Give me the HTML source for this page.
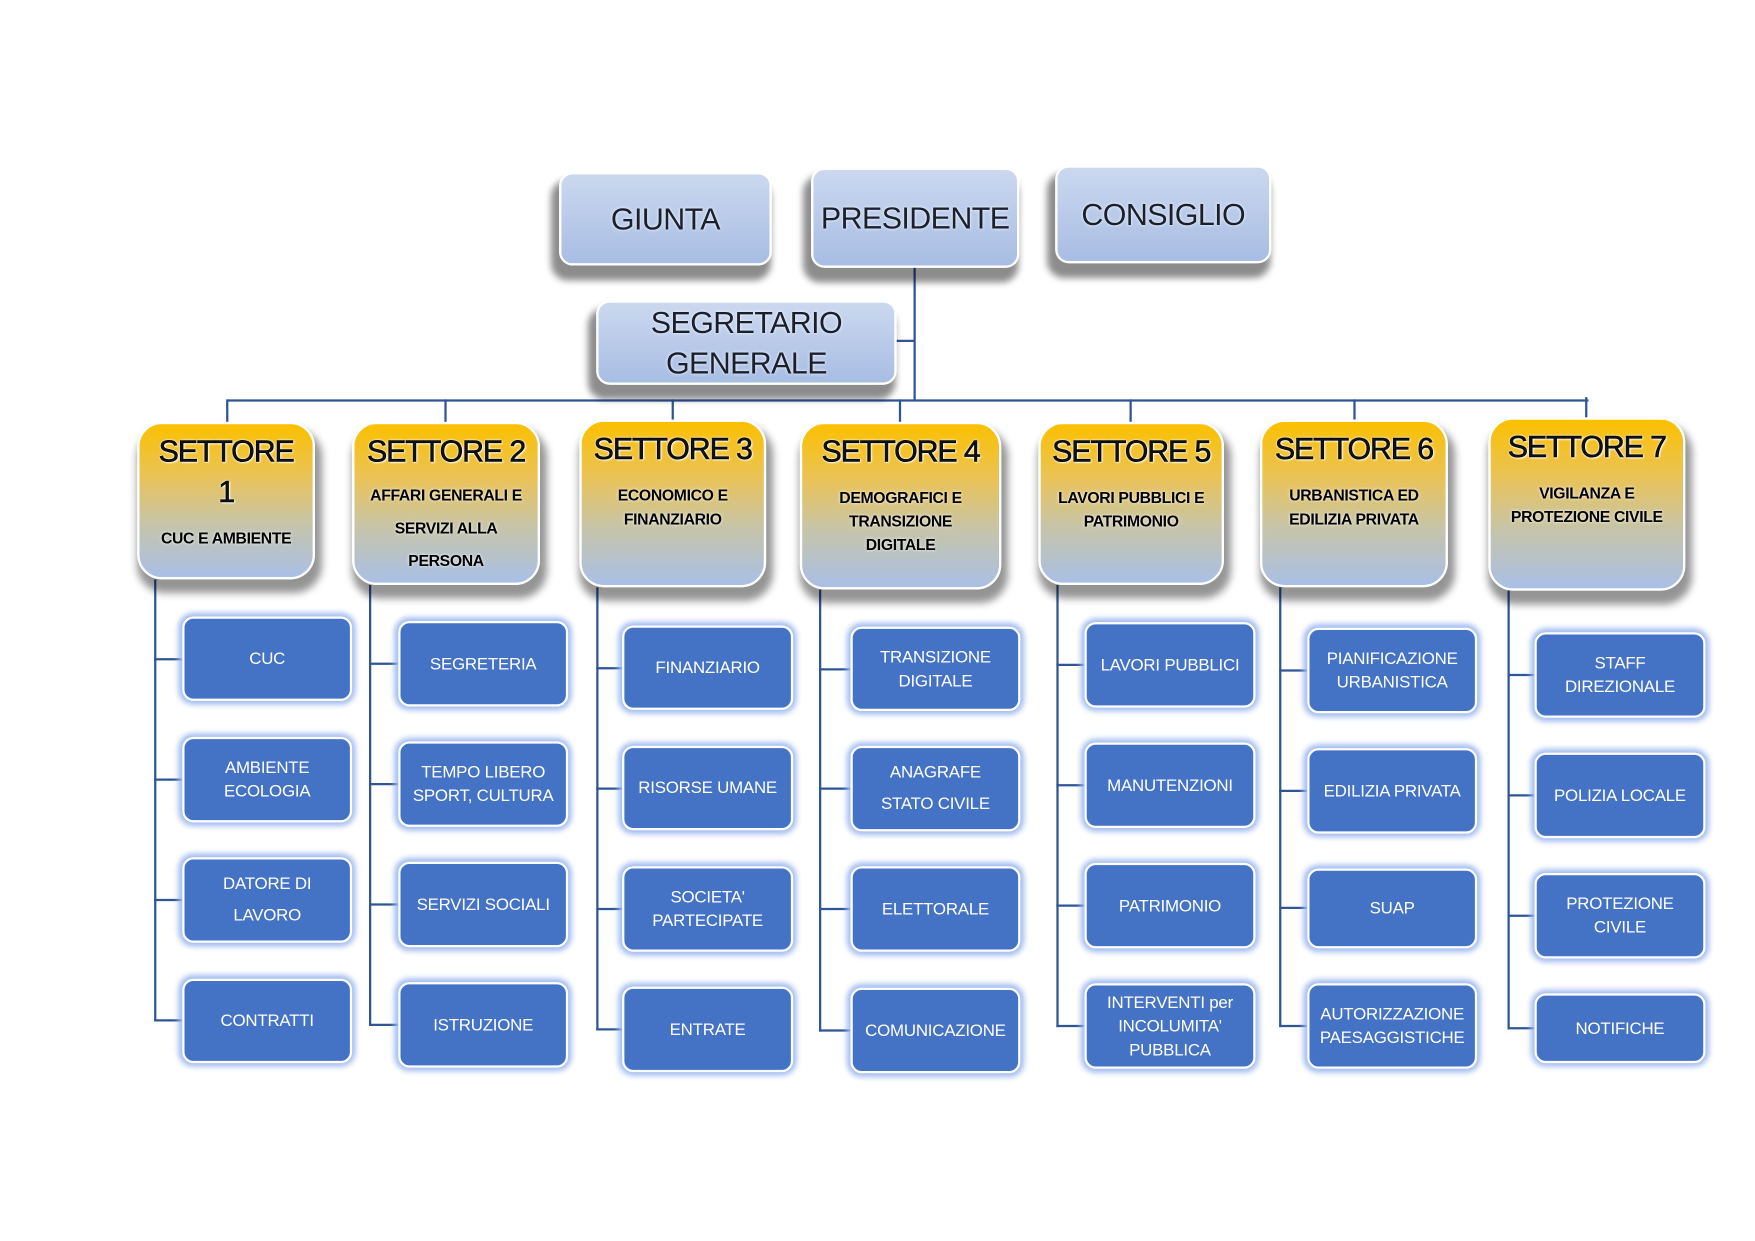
<!DOCTYPE html>
<html><head><meta charset="utf-8"><style>
html,body{margin:0;padding:0;background:#fff;width:1755px;height:1241px;overflow:hidden}
#w{position:absolute;left:0;top:0;width:1560px;height:1103px;transform:scale(1.125);transform-origin:0 0;font-family:"Liberation Sans",sans-serif}
.t{position:absolute;box-sizing:border-box;border:2px solid #fff;border-radius:12px;background:linear-gradient(#cbd8ef,#a8bde3);box-shadow:-4px 10px 6px 3px rgba(0,0,0,.45);display:flex;align-items:center;justify-content:center;text-align:center;color:#1a1f2e;font-size:27px;letter-spacing:-0.5px;line-height:36px;text-shadow:0 0 3px #fff;white-space:nowrap}
.s{position:absolute;box-sizing:border-box;border:2px solid #fff;border-radius:22px;background:linear-gradient(#fbc000 0%,#e9c35a 35%,#c6c4a9 65%,#a9bfe6 100%);box-shadow:3px 9px 7px 3px rgba(0,0,0,.42);text-align:center;color:#000}
.s h{display:block;font-size:27px;letter-spacing:-1px;line-height:36px;margin-top:6px;white-space:nowrap;color:#111;-webkit-text-stroke:0.5px #000;text-shadow:0 0 2px #fff,0 0 2px #fff,1px 1px 2px #fff}
.s p{margin:13px 2px 0;font-weight:bold;font-size:14px;letter-spacing:-0.3px;line-height:21px;text-shadow:0 0 3px #fff}
.c{position:absolute;box-sizing:border-box;border:2px solid #fff;border-radius:10px;background:#4472c4;box-shadow:0 0 5px 3px #9fbaf0;display:flex;align-items:center;justify-content:center;text-align:center;color:#fff;font-size:15px;letter-spacing:-0.2px;line-height:21px}
.l{position:absolute;background:#2f5597}
</style></head><body><div id="w">
<div class="l" style="left:812px;top:238px;width:2px;height:118px"></div>
<div class="l" style="left:797px;top:302px;width:16px;height:2px"></div>
<div class="l" style="left:202px;top:355px;width:1210px;height:2px"></div>
<div class="l" style="left:201px;top:355px;width:2px;height:20px"></div>
<div class="l" style="left:395px;top:355px;width:2px;height:20px"></div>
<div class="l" style="left:597px;top:355px;width:2px;height:18px"></div>
<div class="l" style="left:799px;top:355px;width:2px;height:20px"></div>
<div class="l" style="left:1004px;top:355px;width:2px;height:20px"></div>
<div class="l" style="left:1203px;top:355px;width:2px;height:18px"></div>
<div class="l" style="left:1409px;top:353px;width:2px;height:18px"></div>

<div class="l" style="left:137px;top:515px;width:2px;height:393px"></div>
<div class="l" style="left:328px;top:520px;width:2px;height:392px"></div>
<div class="l" style="left:530px;top:522px;width:2px;height:394px"></div>
<div class="l" style="left:728px;top:524px;width:2px;height:393px"></div>
<div class="l" style="left:939px;top:520px;width:2px;height:393px"></div>
<div class="l" style="left:1137px;top:522px;width:2px;height:391px"></div>
<div class="l" style="left:1340px;top:525px;width:2px;height:390px"></div>

<div class="l" style="left:137px;top:585px;width:25px;height:2px"></div>
<div class="l" style="left:137px;top:692px;width:25px;height:2px"></div>
<div class="l" style="left:137px;top:799px;width:25px;height:2px"></div>
<div class="l" style="left:137px;top:906px;width:25px;height:2px"></div>
<div class="l" style="left:328px;top:589px;width:26px;height:2px"></div>
<div class="l" style="left:328px;top:696px;width:26px;height:2px"></div>
<div class="l" style="left:328px;top:803px;width:26px;height:2px"></div>
<div class="l" style="left:328px;top:910px;width:26px;height:2px"></div>
<div class="l" style="left:530px;top:593px;width:23px;height:2px"></div>
<div class="l" style="left:530px;top:700px;width:23px;height:2px"></div>
<div class="l" style="left:530px;top:807px;width:23px;height:2px"></div>
<div class="l" style="left:530px;top:914px;width:23px;height:2px"></div>
<div class="l" style="left:728px;top:594px;width:28px;height:2px"></div>
<div class="l" style="left:728px;top:700px;width:28px;height:2px"></div>
<div class="l" style="left:728px;top:807px;width:28px;height:2px"></div>
<div class="l" style="left:728px;top:915px;width:28px;height:2px"></div>
<div class="l" style="left:939px;top:590px;width:25px;height:2px"></div>
<div class="l" style="left:939px;top:697px;width:25px;height:2px"></div>
<div class="l" style="left:939px;top:804px;width:25px;height:2px"></div>
<div class="l" style="left:939px;top:911px;width:25px;height:2px"></div>
<div class="l" style="left:1137px;top:595px;width:25px;height:2px"></div>
<div class="l" style="left:1137px;top:702px;width:25px;height:2px"></div>
<div class="l" style="left:1137px;top:806px;width:25px;height:2px"></div>
<div class="l" style="left:1137px;top:911px;width:25px;height:2px"></div>
<div class="l" style="left:1340px;top:599px;width:24px;height:2px"></div>
<div class="l" style="left:1340px;top:706px;width:24px;height:2px"></div>
<div class="l" style="left:1340px;top:813px;width:24px;height:2px"></div>
<div class="l" style="left:1340px;top:913px;width:24px;height:2px"></div>

<div class="t" style="left:497px;top:153px;width:189px;height:83px">GIUNTA</div>
<div class="t" style="left:721px;top:149px;width:185px;height:89px">PRESIDENTE</div>
<div class="t" style="left:938px;top:147px;width:192px;height:87px">CONSIGLIO</div>
<div class="t" style="left:530px;top:267px;width:267px;height:75px">SEGRETARIO<br>GENERALE</div>

<div class="s" style="left:122px;top:375px;width:158px;height:140px"><h>SETTORE<br>1</h><p style="margin-top:13px">CUC E AMBIENTE</p></div>
<div class="s" style="left:313px;top:375px;width:167px;height:145px"><h>SETTORE 2</h><p style="line-height:29px;margin-top:7px">AFFARI GENERALI E SERVIZI ALLA PERSONA</p></div>
<div class="s" style="left:515px;top:373px;width:166px;height:149px"><h>SETTORE 3</h><p>ECONOMICO E FINANZIARIO</p></div>
<div class="s" style="left:711px;top:375px;width:179px;height:149px"><h>SETTORE 4</h><p>DEMOGRAFICI E TRANSIZIONE<br>DIGITALE</p></div>
<div class="s" style="left:923px;top:375px;width:165px;height:145px"><h>SETTORE 5</h><p>LAVORI PUBBLICI E PATRIMONIO</p></div>
<div class="s" style="left:1120px;top:373px;width:167px;height:149px"><h>SETTORE 6</h><p>URBANISTICA ED EDILIZIA PRIVATA</p></div>
<div class="s" style="left:1323px;top:371px;width:175px;height:154px"><h>SETTORE 7</h><p>VIGILANZA E PROTEZIONE CIVILE</p></div>

<div class="c" style="left:162px;top:548px;width:151px;height:75px">CUC</div>
<div class="c" style="left:162px;top:655px;width:151px;height:76px">AMBIENTE<br>ECOLOGIA</div>
<div class="c" style="left:162px;top:762px;width:151px;height:76px;line-height:28px">DATORE DI<br>LAVORO</div>
<div class="c" style="left:162px;top:870px;width:151px;height:75px">CONTRATTI</div>

<div class="c" style="left:354px;top:552px;width:151px;height:76px">SEGRETERIA</div>
<div class="c" style="left:354px;top:659px;width:151px;height:76px">TEMPO LIBERO<br>SPORT, CULTURA</div>
<div class="c" style="left:354px;top:766px;width:151px;height:76px">SERVIZI SOCIALI</div>
<div class="c" style="left:354px;top:873px;width:151px;height:76px">ISTRUZIONE</div>

<div class="c" style="left:553px;top:556px;width:152px;height:75px">FINANZIARIO</div>
<div class="c" style="left:553px;top:663px;width:152px;height:75px">RISORSE UMANE</div>
<div class="c" style="left:553px;top:770px;width:152px;height:76px">SOCIETA'<br>PARTECIPATE</div>
<div class="c" style="left:553px;top:877px;width:152px;height:76px">ENTRATE</div>

<div class="c" style="left:756px;top:557px;width:151px;height:75px">TRANSIZIONE<br>DIGITALE</div>
<div class="c" style="left:756px;top:663px;width:151px;height:76px;line-height:28px">ANAGRAFE<br>STATO CIVILE</div>
<div class="c" style="left:756px;top:770px;width:151px;height:76px">ELETTORALE</div>
<div class="c" style="left:756px;top:878px;width:151px;height:76px">COMUNICAZIONE</div>

<div class="c" style="left:964px;top:553px;width:152px;height:76px">LAVORI PUBBLICI</div>
<div class="c" style="left:964px;top:660px;width:152px;height:76px">MANUTENZIONI</div>
<div class="c" style="left:964px;top:767px;width:152px;height:76px">PATRIMONIO</div>
<div class="c" style="left:964px;top:874px;width:152px;height:76px">INTERVENTI per<br>INCOLUMITA'<br>PUBBLICA</div>

<div class="c" style="left:1162px;top:558px;width:151px;height:76px">PIANIFICAZIONE<br>URBANISTICA</div>
<div class="c" style="left:1162px;top:665px;width:151px;height:76px">EDILIZIA PRIVATA</div>
<div class="c" style="left:1162px;top:772px;width:151px;height:71px">SUAP</div>
<div class="c" style="left:1162px;top:874px;width:151px;height:76px">AUTORIZZAZIONE<br>PAESAGGISTICHE</div>

<div class="c" style="left:1364px;top:562px;width:152px;height:76px">STAFF<br>DIREZIONALE</div>
<div class="c" style="left:1364px;top:669px;width:152px;height:76px">POLIZIA LOCALE</div>
<div class="c" style="left:1364px;top:776px;width:152px;height:76px">PROTEZIONE<br>CIVILE</div>
<div class="c" style="left:1364px;top:883px;width:152px;height:62px">NOTIFICHE</div>
</div></body></html>
